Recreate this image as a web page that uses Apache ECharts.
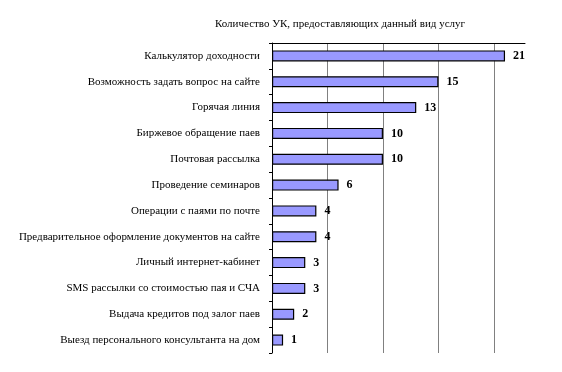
<!DOCTYPE html>
<html>
<head>
<meta charset="utf-8">
<script src="https://cdn.jsdelivr.net/npm/echarts@6/dist/echarts.min.js"></script>
<style>
html,body{margin:0;padding:0;background:#fff;}
#chart{width:562px;height:372px;}
</style>
</head>
<body>
<div id="chart"></div>
<script>
const titleText = 'Количество УК, предоставляющих данный вид услуг';
const categories = [
  'Калькулятор доходности',
  'Возможность задать вопрос на сайте',
  'Горячая линия',
  'Биржевое обращение паев',
  'Почтовая рассылка',
  'Проведение семинаров',
  'Операции с паями по почте',
  'Предварительное оформление документов на сайте',
  'Личный интернет-кабинет',
  'SMS рассылки со стоимостью пая и СЧА',
  'Выдача кредитов под залог паев',
  'Выезд персонального консультанта на дом'
];
const values = [21, 15, 13, 10, 10, 6, 4, 4, 3, 3, 2, 1];
const axisMax = 22.8;
const axisInterval = 5;

const chart = echarts.init(document.getElementById('chart'), null, {renderer: 'canvas'});
const font = 'Liberation Serif, Times New Roman, serif';
chart.setOption({
  animation: false,
  backgroundColor: '#ffffff',
  title: {
    text: titleText,
    left: 335, top: 14, textAlign: 'center',
    textStyle: {fontFamily: font, fontSize: 11, fontWeight: 'normal', color: '#000'}
  },
  grid: {left: 272, right: 37, top: 43, bottom: 19, containLabel: false},
  xAxis: {
    type: 'value', position: 'top', min: 0, max: axisMax, interval: axisInterval,
    axisLine: {show: true, onZero: false, lineStyle: {color: '#000', width: 1}},
    axisTick: {show: false},
    axisLabel: {show: false},
    splitLine: {show: true, lineStyle: {color: ['#000', '#808080', '#808080', '#808080', '#808080', 'rgba(0,0,0,0)'], width: 1}}
  },
  yAxis: {
    type: 'category', inverse: true, data: categories,
    axisLine: {show: true, lineStyle: {color: '#000', width: 1}},
    axisTick: {show: true, length: 3, lineStyle: {color: '#000'}},
    axisLabel: {fontFamily: font, fontSize: 11, color: '#000', margin: 12}
  },
  series: [{
    type: 'bar', data: values, barWidth: 11,
    itemStyle: {color: '#9999FF', borderColor: '#000', borderWidth: 1.2},
    label: {show: true, position: 'right', distance: 8, fontFamily: font, fontSize: 12, fontWeight: 'bold', color: '#000'}
  }]
});
</script>
</body>
</html>
